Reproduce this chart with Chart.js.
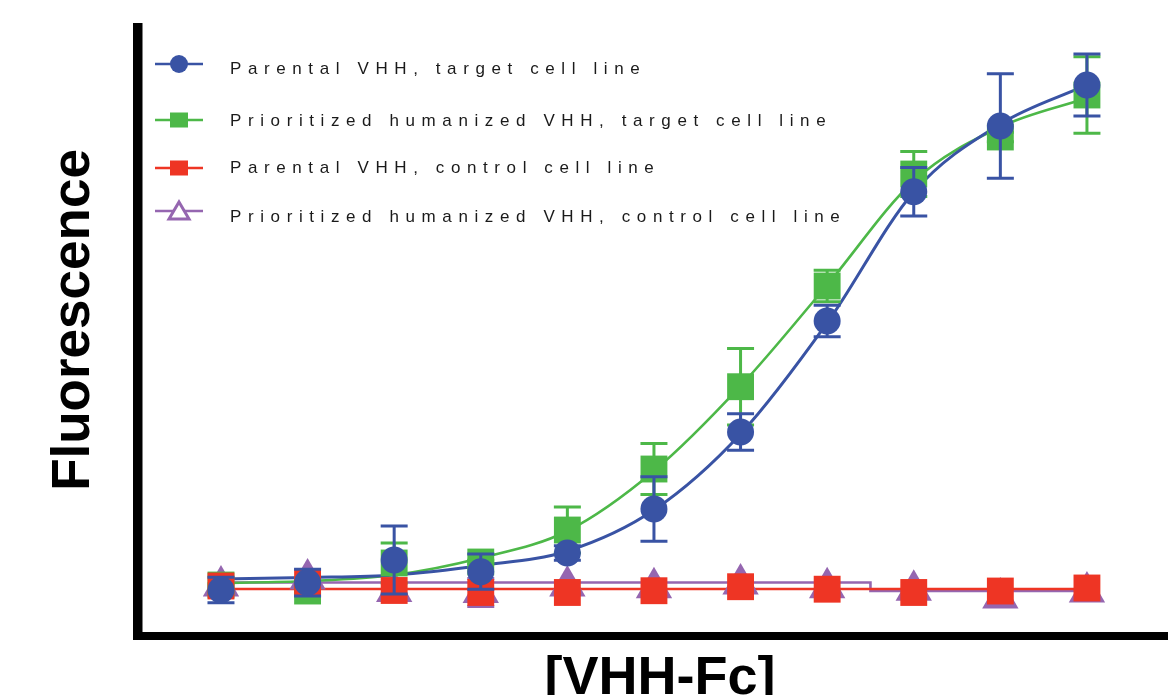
<!DOCTYPE html>
<html>
<head>
<meta charset="utf-8">
<script src="https://cdn.jsdelivr.net/npm/chart.js@4.4.1/dist/chart.umd.min.js"></script>
<style>
  html, body { margin: 0; padding: 0; background: #ffffff; overflow: hidden; }
  #wrap { position: relative; width: 1168px; height: 695px; }
</style>
</head>
<body>
<div id="wrap"><canvas id="chart" width="1168" height="695"></canvas></div>
<script>
// Serial dilution steps of the VHH-Fc titration (log-spaced concentrations)
const dilutionStep = [0, 1, 2, 3, 4, 5, 6, 7, 8, 9, 10];

const seriesNames = [
  'Parental VHH, target cell line',
  'Prioritized humanized VHH, target cell line',
  'Parental VHH, control cell line',
  'Prioritized humanized VHH, control cell line'
];

// Mean fluorescence (arbitrary units) and error (±) per dilution step
const parentalTarget      = [6.92, 8.15, 11.86, 9.93, 13.01, 20.26, 32.95, 51.24, 72.54, 83.36, 90.12];
const parentalTargetErr   = [2.1, 2.2, 5.6, 2.9, 1.2, 5.3, 3.0, 2.6, 4.0, 8.6, 5.1];
const humanizedTarget     = [7.74, 6.75, 11.37, 11.53, 16.80, 26.85, 40.41, 57.00, 75.45, 81.55, 88.47];
const humanizedTargetErr  = [0.2, 0.3, 3.3, 0.3, 3.8, 4.2, 6.3, 2.6, 3.7, 0.8, 6.3];
const parentalControl     = [7.58, 8.24, 6.84, 6.51, 6.51, 6.80, 7.46, 7.05, 6.51, 6.75, 7.25];
const parentalControlErr  = [0, 0, 0, 0, 0, 0, 0, 0, 0, 0, 0];
const humanizedControl    = [7.58, 8.73, 6.67, 6.51, 7.58, 7.30, 7.91, 7.30, 6.87, 5.60, 6.59];
const humanizedControlErr = [0, 0, 0, 2.3, 0, 0, 0, 0, 0, 0, 0];

// Dose-response fit curves, sampled at each dilution step
const parentalTargetFit   = [8.73, 8.98, 9.39, 10.96, 13.34, 20.10, 32.62, 50.91, 72.49, 83.69, 90.12];
const humanizedTargetFit  = [8.07, 8.40, 9.39, 12.19, 16.64, 26.52, 40.53, 57.17, 74.30, 83.20, 87.97];
const parentalControlFit  = [7.08, 7.08, 7.08, 7.08, 7.08, 7.08, 7.08, 7.08, 7.08, 7.08, 7.08];
const humanizedControlFit = [8.15, 8.15, 8.15, 8.15, 8.15, 8.15, 8.15, 8.15, 6.75, 6.75, 6.75];

const BLUE = '#3953a4';
const GREEN = '#4db848';
const RED = '#ee3524';
const PURPLE = '#9566b0';

const toPoints = (vals) => dilutionStep.map((x, i) => ({ x: x, y: vals[i] }));

function markerSet(label, vals, errs, color, style, radius) {
  return {
    label: label,
    data: toPoints(vals),
    errors: errs,
    showLine: false,
    pointStyle: style,
    pointRadius: radius,
    pointBackgroundColor: color,
    pointBorderColor: color,
    pointBorderWidth: 0,
    borderColor: color,
    backgroundColor: color,
    clip: false
  };
}

function fitSet(vals, color, width, stepped) {
  return {
    label: '',
    data: toPoints(vals),
    borderColor: color,
    borderWidth: width,
    pointRadius: 0,
    fill: false,
    cubicInterpolationMode: 'monotone',
    stepped: stepped || false,
    clip: false
  };
}

// Vertical error bars with caps, drawn just before each marker dataset
const errorBarPlugin = {
  id: 'errorBars',
  beforeDatasetDraw(chart, args) {
    const ds = chart.data.datasets[args.index];
    if (!ds.errors) return;
    const ctx = chart.ctx;
    const xs = chart.scales.x, ys = chart.scales.y;
    const cap = 13.5;
    ctx.save();
    ctx.strokeStyle = ds.borderColor;
    ctx.lineWidth = 3;
    ds.data.forEach((p, i) => {
      const e = ds.errors[i];
      if (!e) return;
      const px = xs.getPixelForValue(p.x);
      const yt = ys.getPixelForValue(p.y + e);
      const yb = ys.getPixelForValue(p.y - e);
      ctx.beginPath();
      ctx.moveTo(px, yt); ctx.lineTo(px, yb);
      ctx.moveTo(px - cap, yt); ctx.lineTo(px + cap, yt);
      ctx.moveTo(px - cap, yb); ctx.lineTo(px + cap, yb);
      ctx.stroke();
    });
    ctx.restore();
  }
};

// Heavy L-shaped axes and the two axis titles
const framePlugin = {
  id: 'frame',
  beforeDatasetsDraw(chart) {
    const { ctx, chartArea } = chart;
    ctx.save();
    ctx.fillStyle = '#000000';
    ctx.fillRect(chartArea.left - 9, chartArea.top - 2, 9.5, chartArea.bottom - chartArea.top + 10);
    ctx.fillRect(chartArea.left - 9, chartArea.bottom, chartArea.right - chartArea.left + 9, 8);
    ctx.restore();
  },
  afterDraw(chart) {
    const ctx = chart.ctx;
    ctx.save();
    ctx.fillStyle = '#000000';
    ctx.font = 'bold 54px "Liberation Sans", Arial, Helvetica, sans-serif';
    ctx.textAlign = 'center';
    ctx.textBaseline = 'alphabetic';
    ctx.fillText('[VHH-Fc]', 660, 694);
    ctx.translate(89, 320);
    ctx.rotate(-Math.PI / 2);
    ctx.font = 'bold 53px "Liberation Sans", Arial, Helvetica, sans-serif';
    ctx.fillText('Fluorescence', 0, 0);
    ctx.restore();
  }
};

// Letter-spaced legend inside the plot, top left
const legendRows = [
  { name: seriesNames[0], color: BLUE,   marker: 'circle',   markerY: 64,  textY: 69 },
  { name: seriesNames[1], color: GREEN,  marker: 'square',   markerY: 120, textY: 121 },
  { name: seriesNames[2], color: RED,    marker: 'square',   markerY: 168, textY: 168 },
  { name: seriesNames[3], color: PURPLE, marker: 'triangle', markerY: 211, textY: 217 }
];

const insetLegendPlugin = {
  id: 'insetLegend',
  afterDraw(chart) {
    const ctx = chart.ctx;
    ctx.save();
    legendRows.forEach((row) => {
      const cx = 179, y = row.markerY;
      ctx.strokeStyle = row.color;
      ctx.fillStyle = row.color;
      ctx.lineWidth = 2.5;
      ctx.beginPath();
      ctx.moveTo(155, y); ctx.lineTo(203, y);
      ctx.stroke();
      if (row.marker === 'circle') {
        ctx.beginPath();
        ctx.arc(cx, y, 9, 0, Math.PI * 2);
        ctx.fill();
      } else if (row.marker === 'square') {
        ctx.fillRect(cx - 9, y - 7.5, 18, 15);
      } else {
        ctx.lineWidth = 3;
        ctx.fillStyle = '#ffffff';
        ctx.beginPath();
        ctx.moveTo(cx, y - 9);
        ctx.lineTo(cx + 10, y + 8);
        ctx.lineTo(cx - 10, y + 8);
        ctx.closePath();
        ctx.fill();
        ctx.stroke();
      }
      ctx.fillStyle = '#1a1a1a';
      ctx.font = '17px "Liberation Sans", Arial, Helvetica, sans-serif';
      ctx.letterSpacing = '6.6px';
      ctx.textAlign = 'left';
      ctx.textBaseline = 'middle';
      ctx.fillText(row.name, 230, row.textY);
      ctx.letterSpacing = '0px';
    });
    ctx.restore();
  }
};

new Chart(document.getElementById('chart'), {
  type: 'line',
  data: {
    datasets: [
      markerSet(seriesNames[0], parentalTarget, parentalTargetErr, BLUE, 'circle', 13.5),
      markerSet(seriesNames[2], parentalControl, parentalControlErr, RED, 'rect', 19),
      markerSet(seriesNames[1], humanizedTarget, humanizedTargetErr, GREEN, 'rect', 19),
      markerSet(seriesNames[3], humanizedControl, humanizedControlErr, PURPLE, 'triangle', 21),
      fitSet(parentalTargetFit, BLUE, 3),
      fitSet(humanizedTargetFit, GREEN, 2.6),
      fitSet(parentalControlFit, RED, 2.6),
      fitSet(humanizedControlFit, PURPLE, 2.6, 'middle')
    ]
  },
  options: {
    responsive: false,
    animation: false,
    layout: { autoPadding: false, padding: { left: 142, top: 25, right: 0, bottom: 63 } },
    plugins: {
      legend: { display: false },
      tooltip: { enabled: false },
      title: { display: false }
    },
    scales: {
      x: { type: 'linear', display: false, min: -0.912, max: 10.936 },
      y: { type: 'linear', display: false, min: 0, max: 100 }
    }
  },
  plugins: [framePlugin, errorBarPlugin, insetLegendPlugin]
});
</script>
</body>
</html>
